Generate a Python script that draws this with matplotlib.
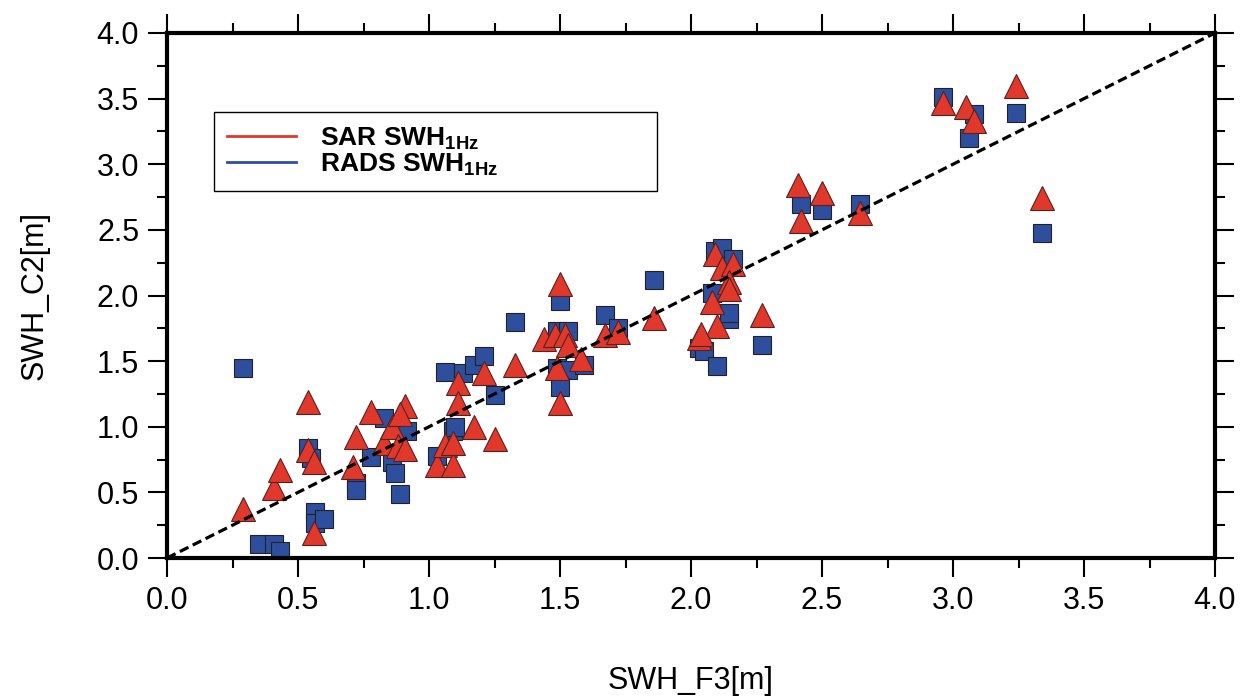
import matplotlib
matplotlib.use('Agg')
import matplotlib.pyplot as plt
import numpy as np
from matplotlib.lines import Line2D
from matplotlib.ticker import MultipleLocator

plt.rcParams['font.family'] = ['Liberation Sans Narrow', 'Liberation Sans', 'DejaVu Sans']
plt.rcParams['mathtext.fontset'] = 'custom'
plt.rcParams['mathtext.rm'] = 'Liberation Sans'
plt.rcParams['mathtext.bf'] = 'Liberation Sans:bold'

# RADS SWH 1Hz (blue squares)
rads_x = [0.29, 0.35, 0.41, 0.43, 0.54, 0.55, 0.565, 0.565, 0.60, 0.72, 0.72,
          0.78, 0.83, 0.86, 0.87, 0.89, 0.915, 1.03, 1.06, 1.09, 1.10, 1.13,
          1.17, 1.21, 1.25, 1.33, 1.49, 1.53, 1.49, 1.53, 1.59, 1.50, 1.50,
          1.67, 1.72, 1.86, 2.03, 2.05, 2.08, 2.09, 2.10, 2.12, 2.145, 2.145,
          2.16, 2.27, 2.42, 2.50, 2.645, 2.96, 3.06, 3.08, 3.24, 3.34]
rads_y = [1.45, 0.11, 0.11, 0.05, 0.84, 0.76, 0.35, 0.27, 0.30, 0.57, 0.52,
          0.77, 1.07, 0.73, 0.65, 0.49, 0.97, 0.78, 1.42, 0.97, 1.00, 1.41,
          1.47, 1.54, 1.24, 1.80, 1.73, 1.73, 1.45, 1.43, 1.47, 1.96, 1.30,
          1.85, 1.75, 2.12, 1.60, 1.58, 2.02, 2.34, 1.46, 2.36, 1.82, 1.87,
          2.28, 1.62, 2.70, 2.65, 2.70, 3.51, 3.20, 3.38, 3.39, 2.48]

# SAR SWH 1Hz (red triangles)
sar_x = [0.29, 0.41, 0.43, 0.54, 0.54, 0.56, 0.56, 0.71, 0.72, 0.78, 0.83,
         0.86, 0.88, 0.91, 0.91, 0.89, 1.03, 1.06, 1.09, 1.11, 1.11, 1.17,
         1.25, 1.09, 1.21, 1.33, 1.44, 1.48, 1.52, 1.53, 1.50, 1.49, 1.58,
         1.50, 1.67, 1.72, 1.86, 2.03, 2.09, 2.12, 2.16, 2.145, 2.145, 2.08,
         2.10, 2.04, 2.27, 2.41, 2.42, 2.50, 2.645, 2.96, 3.05, 3.08, 3.24, 3.34]
sar_y = [0.37, 0.53, 0.67, 1.19, 0.82, 0.73, 0.19, 0.69, 0.92, 1.11, 0.88,
         1.00, 0.85, 0.83, 1.16, 1.10, 0.71, 0.86, 0.71, 1.33, 1.18, 1.00,
         0.91, 0.88, 1.41, 1.47, 1.67, 1.70, 1.70, 1.62, 2.09, 1.45, 1.52,
         1.18, 1.70, 1.72, 1.83, 1.68, 2.32, 2.21, 2.24, 2.10, 2.05, 1.95,
         1.77, 1.71, 1.85, 2.84, 2.57, 2.78, 2.63, 3.47, 3.44, 3.33, 3.60, 2.74]

red = '#e0382b'
blue = '#2e4e9e'

fig = plt.figure(figsize=(12.54, 7.0), dpi=100)
ax = fig.add_axes([167 / 1254, 1 - 558 / 700, 1048 / 1254, 525 / 700])

ax.plot([0, 4], [0, 4], color='black', linestyle=(0, (3, 1.5)), lw=2.3, zorder=4)
ax.plot(rads_x, rads_y, 's', ms=12.5, mfc=blue, mec='#222222', mew=0.8, zorder=2)
ax.plot(sar_x, sar_y, '^', ms=17, mfc=red, mec='#552222', mew=0.8, zorder=3)

ax.set_xlim(0, 4)
ax.set_ylim(0, 4)
ax.xaxis.set_major_locator(MultipleLocator(0.5))
ax.xaxis.set_minor_locator(MultipleLocator(0.25))
ax.yaxis.set_major_locator(MultipleLocator(0.5))
ax.yaxis.set_minor_locator(MultipleLocator(0.25))
ax.xaxis.set_major_formatter(lambda v, p: '%.1f' % v)
ax.yaxis.set_major_formatter(lambda v, p: '%.1f' % v)
ax.tick_params(which='both', direction='out', top=True, right=True, width=1.5,
               labelsize=22)
ax.tick_params(which='major', length=14, pad=6)
ax.tick_params(which='minor', length=7)
for s in ax.spines.values():
    s.set_linewidth(3)

ax.set_xlabel('SWH_F3[m]', fontsize=22, labelpad=36)
ax.set_ylabel('SWH_C2[m]', fontsize=22, labelpad=34)

handles = [Line2D([0], [0], color=red, lw=2),
           Line2D([0], [0], color=blue, lw=2)]
labels = [r'SAR SWH$_{\mathbf{1Hz}}$', r'RADS SWH$_{\mathbf{1Hz}}$']
leg = ax.legend(handles, labels, loc='upper left',
                bbox_to_anchor=(0.045, 0.70, 0.423, 0.1495), mode='expand',
                fancybox=False, edgecolor='black', framealpha=1,
                prop={'family': 'Liberation Sans', 'weight': 'bold', 'size': 19},
                handlelength=2.6, labelspacing=0.0, borderpad=0.5,
                handletextpad=0.9, borderaxespad=0)
leg.get_frame().set_linewidth(1.0)

fig.savefig('out.png', dpi=100)
